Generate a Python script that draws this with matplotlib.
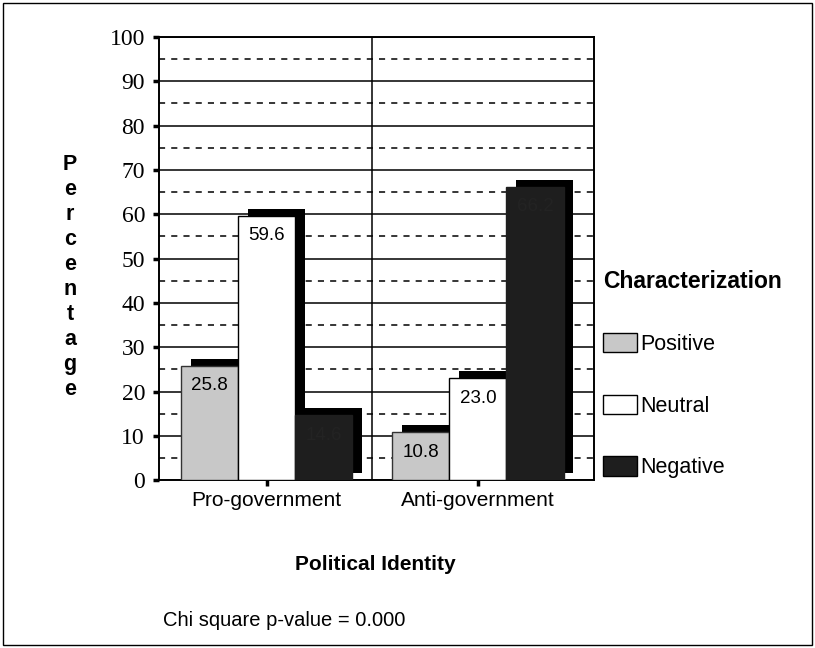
import matplotlib.pyplot as plt
from matplotlib.patches import Patch, Rectangle
import numpy as np

plt.rcParams['font.family'] = ['Liberation Sans', 'DejaVu Sans']

# Data
groups = ['Pro-government', 'Anti-government']
series = ['Positive', 'Neutral', 'Negative']
positive = [25.8, 10.8]
neutral = [59.6, 23.0]
negative = [14.6, 66.2]
yticks = [0, 10, 20, 30, 40, 50, 60, 70, 80, 90, 100]

face_colors = ['#c8c8c8', '#ffffff', '#1e1e1e']
edge_colors = ['#333333', '#000000', '#1e1e1e']
label_colors = ['black', 'black', '#232323']

BAR_W = 0.27
SHADOW_DX = 0.045
SHADOW_DY = 1.6

fig = plt.figure(figsize=(8.15, 6.48), dpi=100)
ax = fig.add_axes([0.195, 0.259, 0.534, 0.684])

x = np.arange(len(groups))
values = [positive, neutral, negative]

# shadows first (behind every front face)
for i, vals in enumerate(values):
    xs = x + (i - 1) * BAR_W
    ax.bar(xs + SHADOW_DX, vals, width=BAR_W, bottom=SHADOW_DY,
           color='black', zorder=2)

for i, vals in enumerate(values):
    xs = x + (i - 1) * BAR_W
    ax.bar(xs, vals, width=BAR_W, color=face_colors[i],
           edgecolor=edge_colors[i], linewidth=1, zorder=3)
    for xi, v in zip(xs, vals):
        ax.text(xi, v - 4.5, f"{v:.1f}", ha='center', va='center',
                fontsize=13.5, color=label_colors[i], zorder=4)

# grid: solid every 10, dashed every 5
ax.set_ylim(0, 100)
ax.set_xlim(-0.51, 1.55)
ax.set_yticks(yticks)
ax.set_yticks(np.arange(5, 100, 10), minor=True)
ax.grid(axis='y', which='major', color='black', linewidth=1.1, zorder=1)
ax.grid(axis='y', which='minor', color='black', linewidth=1.1,
        linestyle=(0, (4, 4)), zorder=1)
ax.axvline(0.5, color='black', linewidth=1.1, zorder=1)
ax.set_axisbelow(True)

ax.set_xticks(x)
ax.set_xticklabels(groups, fontsize=15)
ax.set_yticklabels([str(t) for t in yticks], fontsize=17,
                   family='Liberation Serif')
ax.tick_params(axis='y', which='major', direction='out', length=4, width=2.5, pad=6)
ax.tick_params(axis='y', which='minor', length=0)
ax.tick_params(axis='x', direction='out', length=4, width=2.5, pad=4)
for s in ax.spines.values():
    s.set_linewidth(1.4)

# stacked y label
fig.text(70 / 815, 1 - 277 / 648, '\n'.join('Percentage'), ha='center',
         va='center', fontsize=15.5, fontweight='bold', linespacing=1.25)

fig.text(375 / 815, 1 - 565 / 648, 'Political Identity', ha='center',
         va='center', fontsize=15, fontweight='bold')
fig.text(163 / 815, 1 - 620 / 648, 'Chi square p-value = 0.000', ha='left',
         va='center', fontsize=14.5)

handles = [Patch(facecolor=face_colors[i], edgecolor='black', linewidth=1)
           for i in range(3)]
leg = fig.legend(handles, series, loc='upper left',
                 bbox_to_anchor=(603 / 815, 1 - 270 / 648),
                 frameon=False, fontsize=15.5, title='Characterization',
                 title_fontproperties={'weight': 'bold', 'size': 16.5},
                 alignment='left', handlelength=1.6, handleheight=1.0,
                 handletextpad=0.15, labelspacing=1.85, borderpad=0,
                 borderaxespad=0)

# outer frame
fig.patches.append(Rectangle((0.004, 0.005), 0.992, 0.99, transform=fig.transFigure,
                             fill=False, edgecolor='black', linewidth=1))

fig.savefig('out.png', dpi=100)
